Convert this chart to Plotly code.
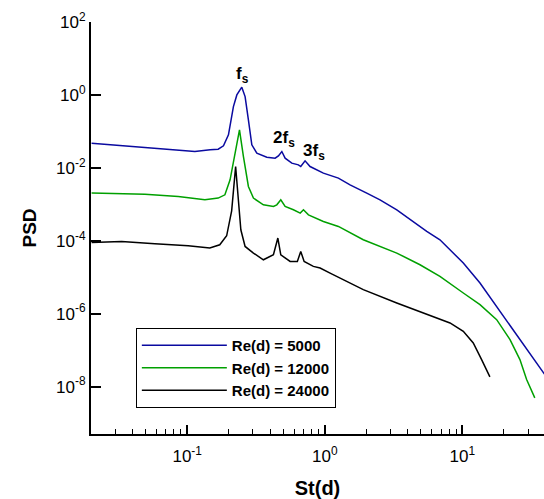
import math
import plotly.graph_objects as go

# === Data (St(d) vs PSD) ===
st_5000 = [0.0202, 0.0385, 0.0766, 0.1137, 0.147, 0.168, 0.1836, 0.1995, 0.2168, 0.2296,
           0.2494, 0.2636, 0.2786, 0.295, 0.3208, 0.379, 0.4355, 0.4603, 0.4875, 0.515,
           0.576, 0.643, 0.669, 0.719, 0.782, 0.977, 1.256, 1.527, 2.019, 2.52,
           3.337, 4.40, 5.51, 6.87, 7.69, 10.16, 13.43, 17.75, 23.4, 31.0, 39.5]
psd_5000 = [0.0475, 0.0388, 0.0311, 0.0280, 0.0311, 0.0325, 0.0401, 0.0802, 0.478, 1.0,
            1.63, 0.898, 0.2065, 0.0427, 0.0253, 0.0196, 0.01845, 0.0213, 0.0280, 0.01845,
            0.01346, 0.01208, 0.01086, 0.01556, 0.01086, 0.00716, 0.00522, 0.00342, 0.00203, 0.00133,
            7.06e-4, 3.38e-4, 1.80e-4, 1.064e-4, 6.98e-5, 2.45e-5, 6.93e-6, 1.585e-6, 3.65e-7, 8.38e-8, 2.2e-8]

st_12000 = [0.0202, 0.0493, 0.0861, 0.1345, 0.168, 0.188, 0.205, 0.2234, 0.240, 0.2564,
            0.2786, 0.303, 0.358, 0.4235, 0.448, 0.479, 0.515, 0.5916, 0.663, 0.700,
            0.761, 0.977, 1.256, 1.905, 3.337, 4.92, 6.87, 10.16, 13.43, 17.75,
            22.2, 26.2, 29.3, 33.6]
psd_12000 = [0.00203, 0.0019, 0.001637, 0.001327, 0.00148, 0.00182, 0.00469, 0.0253, 0.110, 0.0204,
             0.00308, 0.00148, 9.68e-4, 8.71e-4, 9.68e-4, 0.001327, 8.71e-4, 7.06e-4, 5.74e-4, 7.06e-4,
             5.15e-4, 3.38e-4, 2.47e-4, 1.064e-4, 4.60e-5, 2.20e-5, 1.05e-5, 3.69e-6, 1.77e-6, 6.85e-7,
             1.94e-7, 5.50e-8, 1.56e-8, 4.9e-9]

st_24000 = [0.0202, 0.0334, 0.0582, 0.1017, 0.146, 0.1725, 0.1936, 0.2105, 0.225, 0.236,
            0.2455, 0.2636, 0.303, 0.358, 0.4235, 0.456, 0.479, 0.560, 0.632, 0.669,
            0.708, 0.826, 0.925, 1.093, 1.905, 3.337, 5.20, 6.87, 8.13, 10.16,
            12.0, 13.8, 15.85]
psd_24000 = [8.97e-5, 9.57e-5, 8.28e-5, 7.30e-5, 6.31e-5, 7.77e-5, 1.37e-4, 6.64e-4, 0.01086, 0.001327,
             2.0e-4, 6.98e-5, 4.60e-5, 3.01e-5, 4.13e-5, 1.186e-4, 4.13e-5, 2.71e-5, 2.71e-5, 5.09e-5,
             2.71e-5, 1.98e-5, 1.79e-5, 1.30e-5, 4.55e-6, 1.96e-6, 1.045e-6, 7.16e-7, 5.56e-7, 3.27e-7,
             1.57e-7, 5.50e-8, 1.85e-8]

series = [
    ("Re(d) = 5000", st_5000, psd_5000, "#0a0aa0"),
    ("Re(d) = 12000", st_12000, psd_12000, "#00a000"),
    ("Re(d) = 24000", st_24000, psd_24000, "#000000"),
]

x_tick_vals = [0.1, 1, 10]
x_tick_text = ["10<sup>-1</sup>", "10<sup>0</sup>", "10<sup>1</sup>"]
x_minor_vals = [0.03, 0.04, 0.05, 0.06, 0.07, 0.08, 0.09,
                0.2, 0.3, 0.4, 0.5, 0.6, 0.7, 0.8, 0.9,
                2, 3, 4, 5, 6, 7, 8, 9, 20, 30]
y_tick_vals = [1e-8, 1e-6, 1e-4, 1e-2, 1, 1e2]
y_tick_text = ["10<sup>-8</sup>", "10<sup>-6</sup>", "10<sup>-4</sup>",
               "10<sup>-2</sup>", "10<sup>0</sup>", "10<sup>2</sup>"]

# harmonic labels: (text, St, PSD)
harmonics = [("f<sub>s</sub>", 0.251, 3.5),
             ("2f<sub>s</sub>", 0.505, 0.062),
             ("3f<sub>s</sub>", 0.835, 0.0265)]

FONT = "Liberation Sans, Arial, Helvetica, sans-serif"

fig = go.Figure()
for name, x, y, color in series:
    fig.add_trace(go.Scatter(x=x, y=y, mode="lines", name=name,
                             line=dict(color=color, width=1.5)))

for text, sx, sy in harmonics:
    fig.add_annotation(x=math.log10(sx), y=math.log10(sy), text="<b>" + text + "</b>",
                       showarrow=False, font=dict(size=17, color="black", family=FONT))

fig.update_layout(
    width=544, height=499,
    margin=dict(l=91, r=0, t=22, b=65),
    plot_bgcolor="white", paper_bgcolor="white",
    font=dict(family=FONT, size=14, color="black"),
    legend=dict(x=0.099, y=0.257, xanchor="left", yanchor="top",
                bordercolor="black", borderwidth=1, bgcolor="white",
                font=dict(size=15, family=FONT, weight="bold"), itemwidth=85,
                tracegroupgap=0),
    xaxis=dict(type="log", range=[math.log10(0.02), math.log10(39.2)],
               automargin=False,
               showline=True, linecolor="black", linewidth=2, mirror=False,
               showgrid=False, zeroline=False,
               tickmode="array", tickvals=x_tick_vals, ticktext=x_tick_text,
               ticks="inside", ticklen=9, tickwidth=2, tickcolor="black",
               tickfont=dict(size=17), ticklabelstandoff=6,
               minor=dict(tickvals=x_minor_vals, ticks="inside", ticklen=5,
                          tickwidth=1, tickcolor="black", showgrid=False),
               title=dict(text="<b>St(d)</b>", font=dict(size=20), standoff=20)),
    yaxis=dict(type="log", range=[-9.3, 2],
               automargin=False,
               showline=True, linecolor="black", linewidth=2, mirror=False,
               showgrid=False, zeroline=False,
               tickmode="array", tickvals=y_tick_vals, ticktext=y_tick_text,
               ticks="inside", ticklen=10, tickwidth=2, tickcolor="black",
               tickfont=dict(size=17),
               title=dict(text="<b>PSD</b>", font=dict(size=19), standoff=14)),
)

# drop the browser's default body margin so the figure sits at (0, 0)
fig.write_html("out.html", config={"displayModeBar": False},
               post_script="document.body.style.margin='0';")
